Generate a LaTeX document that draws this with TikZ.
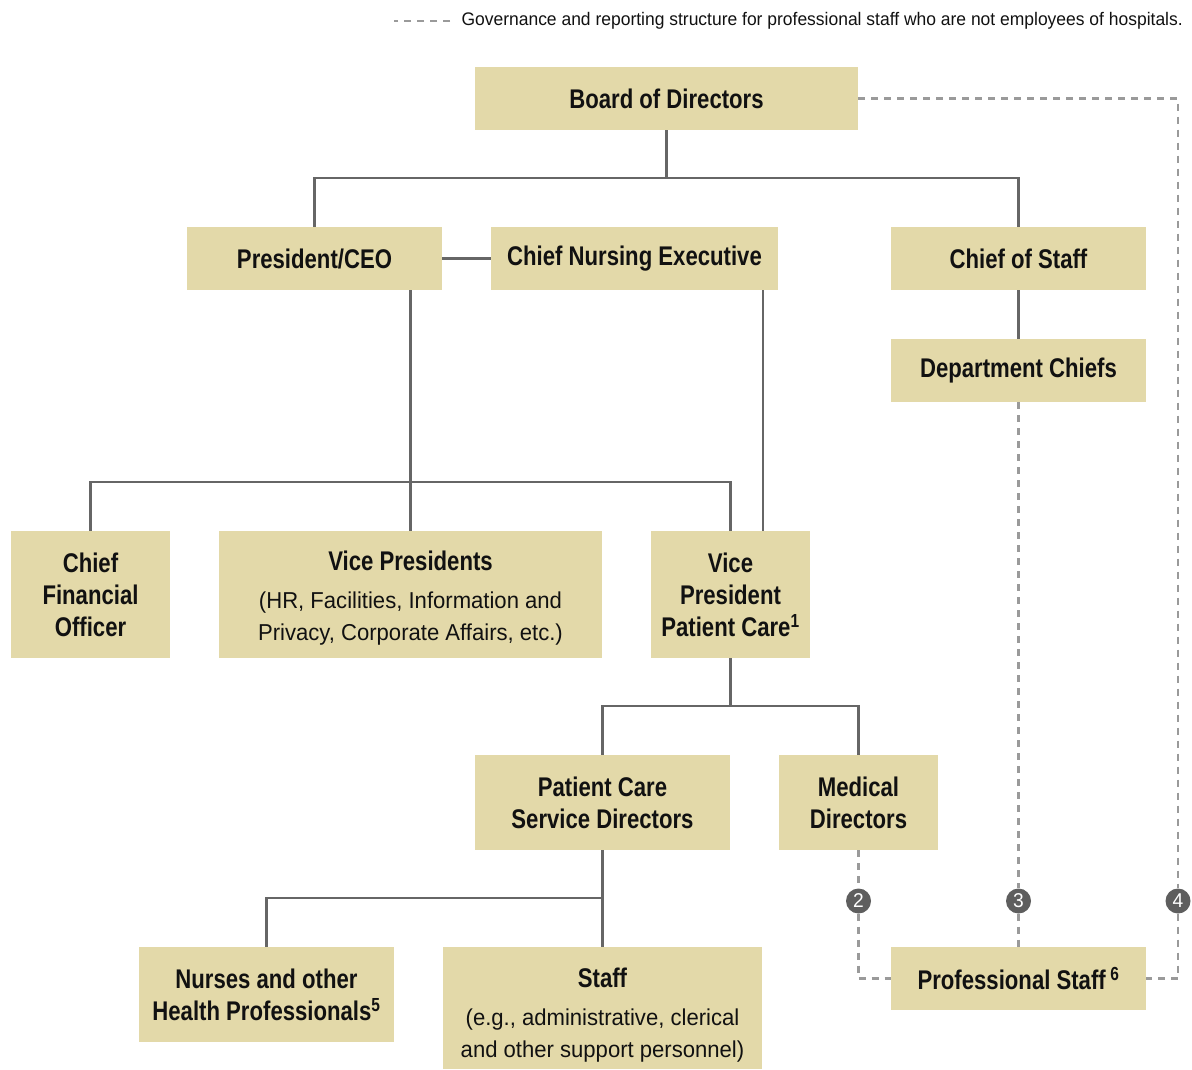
\documentclass[tikz,border=0pt]{standalone}
\usepackage{fontspec}
\setmainfont{Liberation Sans}[FakeStretch=0.82]
\newfontfamily\plainf{Liberation Sans}[FakeStretch=0.96]
\usetikzlibrary{positioning,calc}
\definecolor{tan}{HTML}{E3D9A9}
\definecolor{ink}{HTML}{111111}
\definecolor{linegray}{HTML}{666666}
\definecolor{dashgray}{HTML}{9A9A9A}
\definecolor{dotgray}{HTML}{5E5E5E}
\newcommand{\subl}[1]{{\plainf\mdseries\fontsize{23}{32}\selectfont #1}}
\newcommand{\fn}[1]{\textsuperscript{#1}}
\tikzset{
  org/.style={rectangle,fill=tan,align=center,inner sep=0pt,text=ink,
    font=\fontsize{27}{32}\selectfont\bfseries},
  ln/.style={line width=2.5pt,draw=linegray},
  dln/.style={line width=2.5pt,draw=dashgray,dash pattern=on 7pt off 6pt},
  num/.style={circle,fill=dotgray,text=white,minimum size=25pt,inner sep=0pt,
    font=\plainf\fontsize{20}{20}\selectfont},
}
\begin{document}
\begin{tikzpicture}[x=1pt,y=-1pt]
  \useasboundingbox (0,0) rectangle (1192,1070);
  \node[anchor=west,font=\plainf\fontsize{18.2}{18.2}\selectfont,text=ink] (legend) at (458,21)
    {Governance and reporting structure for professional staff who are not employees of hospitals.};
  \draw[dln,line width=2pt] ([xshift=-8pt]legend.west) -- ++(-56,0);
  \node[org,minimum width=383,minimum height=63] (board) at (666.5,98.5) {Board of Directors};
  \node[org,minimum width=255,minimum height=63] (pres) at (314.5,258.5) {President/CEO};
  \node[org,minimum width=287,minimum height=63] (cne) at (634.5,258.5) {Chief Nursing Executive};
  \node[org,minimum width=255,minimum height=63] (cos) at (1018.5,258.5) {Chief of Staff};
  \node[org,minimum width=255,minimum height=63] (dept) at (1018.5,370.5) {Department Chiefs};
  \node[org,minimum width=159,minimum height=127] (cfo) at (90.5,594.5) {Chief\\Financial\\Officer};
  \node[org,minimum width=383,minimum height=127] (vp) at (410.5,594.5)
    {\rule{0pt}{27pt}Vice Presidents\\[6pt]\subl{(HR, Facilities, Information and}\\\subl{Privacy, Corporate Affairs, etc.)}};
  \node[org,minimum width=159,minimum height=127] (vppc) at (730.5,594.5) {Vice\\President\\Patient Care\fn{1}};
  \node[org,minimum width=255,minimum height=95] (pcsd) at (602.5,802.5) {Patient Care\\Service Directors};
  \node[org,minimum width=159,minimum height=95] (med) at (858.5,802.5) {Medical\\Directors};
  \node[org,minimum width=255,minimum height=95] (nurse) at (266.5,994.5) {Nurses and other\\Health Professionals\fn{5}};
  \node[org,minimum width=319,minimum height=122] (staff) at (602.5,1008)
    {\rule{0pt}{34pt}Staff\\[6pt]\subl{(e.g., administrative, clerical}\\\subl{and other support personnel)}};
  \node[org,minimum width=255,minimum height=63] (prof) at (1018.5,978.5) {Professional Staff\,\fn{6}};
  \node[num] (n2) at (858.5,901) {2};
  \node[num] (n3) at (1018.5,901) {3};
  \node[num] (n4) at (1178,901) {4};
  \coordinate (j1) at (666.5,178);
  \coordinate (j2) at (410.5,482);
  \coordinate (j3) at (730.5,706);
  \coordinate (j4) at (602.5,898);
  \coordinate (k) at ([xshift=32.5pt]vppc.north);
  \draw[ln] (board.south) -- (j1) -| (pres.north);
  \draw[ln] (j1) -| (cos.north);
  \draw[ln] (pres.east) -- (cne.west);
  \draw[ln] (pres.south -| vp.north) -- (vp.north);
  \draw[ln] (cfo.north) |- (j2) -| (vppc.north);
  \draw[ln] (k |- cne.south) -- (k);
  \draw[ln] (cos.south) -- (dept.north);
  \draw[ln] (vppc.south) -- (j3);
  \draw[ln] (pcsd.north) |- (j3) -| (med.north);
  \draw[ln] (pcsd.south) -- (j4);
  \draw[ln] (nurse.north) |- (j4) -- (staff.north);
  \draw[dln] (board.east) -| (n4);
  \draw[dln] (n4) |- (prof.east);
  \draw[dln] (dept.south) -- (n3);
  \draw[dln] (n3) -- (prof.north);
  \draw[dln] (med.south) -- (n2);
  \draw[dln] (n2) |- (prof.west);
\end{tikzpicture}
\end{document}
